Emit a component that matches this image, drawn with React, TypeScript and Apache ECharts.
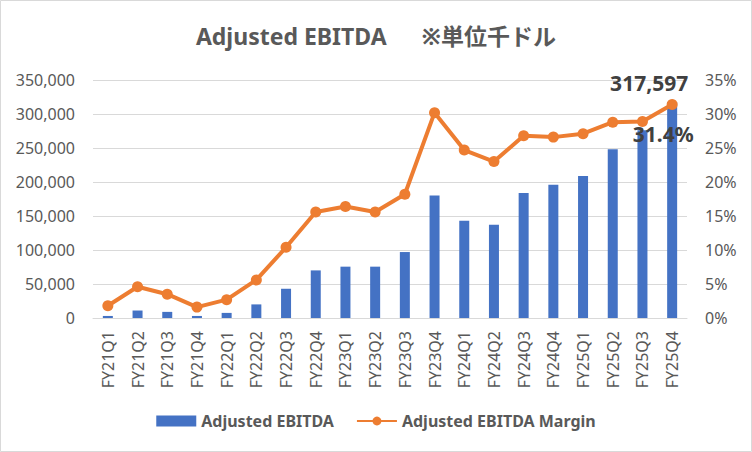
import React, { useEffect, useRef } from "react";
import * as echarts from "echarts";

const categories = [
  "FY21Q1", "FY21Q2", "FY21Q3", "FY21Q4",
  "FY22Q1", "FY22Q2", "FY22Q3", "FY22Q4",
  "FY23Q1", "FY23Q2", "FY23Q3", "FY23Q4",
  "FY24Q1", "FY24Q2", "FY24Q3", "FY24Q4",
  "FY25Q1", "FY25Q2", "FY25Q3", "FY25Q4",
];

const ebitda = [
  3000, 11000, 9000, 3000,
  7500, 20000, 43000, 70000,
  75500, 75500, 97000, 180000,
  143000, 137000, 184000, 196000,
  209000, 248000, 276000, 317597,
];

const margin = [
  1.8, 4.6, 3.5, 1.6,
  2.7, 5.6, 10.4, 15.6,
  16.4, 15.6, 18.2, 30.2,
  24.7, 23.0, 26.8, 26.6,
  27.1, 28.8, 28.9, 31.4,
];

const FONT = "'Noto Sans', 'Noto Sans CJK JP', sans-serif";
const GREY = "#595959";

export default function App() {
  const ref = useRef<HTMLDivElement>(null);
  useEffect(() => {
    document.body.style.margin = "0";
    const chart = echarts.init(ref.current!, null, { renderer: "svg" });
    const last = categories.length - 1;
    chart.setOption({
      animation: false,
      backgroundColor: "#ffffff",
      textStyle: { fontFamily: FONT },
      title: {
        text: "Adjusted EBITDA 　 ※単位千ドル",
        left: "center",
        top: 19,
        textStyle: { fontFamily: FONT, fontSize: 23, fontWeight: "bold", color: GREY },
      },
      legend: {
        bottom: 18,
        left: "center",
        itemGap: 22,
        itemWidth: 40,
        itemHeight: 11,
        textStyle: { fontFamily: FONT, fontSize: 16, fontWeight: "bold", color: GREY },
        data: [
          { name: "Adjusted EBITDA", icon: "rect" },
          { name: "Adjusted EBITDA Margin" },
        ],
      },
      grid: { left: 93, right: 65, top: 80, bottom: 134 },
      xAxis: {
        type: "category",
        data: categories,
        axisLine: { lineStyle: { color: "#d9d9d9", width: 1 } },
        axisTick: { show: false },
        axisLabel: { rotate: 90, fontSize: 16, color: GREY, fontFamily: FONT, margin: 13 },
      },
      yAxis: [
        {
          type: "value",
          min: 0,
          max: 350000,
          interval: 50000,
          axisLine: { show: false },
          axisTick: { show: false },
          splitLine: { lineStyle: { color: "#d9d9d9", width: 1 } },
          axisLabel: {
            fontSize: 16,
            color: GREY,
            fontFamily: FONT,
            margin: 18,
            formatter: (v: number) => v.toLocaleString("en-US"),
          },
        },
        {
          type: "value",
          min: 0,
          max: 35,
          interval: 5,
          axisLine: { show: false },
          axisTick: { show: false },
          splitLine: { show: false },
          axisLabel: {
            fontSize: 16,
            color: GREY,
            fontFamily: FONT,
            margin: 18,
            formatter: (v: number) => `${v}%`,
          },
        },
      ],
      series: [
        {
          name: "Adjusted EBITDA",
          type: "bar",
          yAxisIndex: 0,
          barWidth: 10,
          itemStyle: { color: "#4472C4" },
          data: ebitda.map((v, i) =>
            i === last
              ? {
                  value: v,
                  label: {
                    show: true,
                    position: "top",
                    offset: [-23, -4],
                    fontSize: 21,
                    fontWeight: "bold",
                    color: "#404040",
                    fontFamily: FONT,
                    formatter: (p: any) => Number(p.value).toLocaleString("en-US"),
                  },
                }
              : v
          ),
          z: 1,
        },
        {
          name: "Adjusted EBITDA Margin",
          type: "line",
          yAxisIndex: 1,
          symbol: "circle",
          symbolSize: 11,
          lineStyle: { color: "#ED7D31", width: 4 },
          itemStyle: { color: "#ED7D31" },
          data: margin.map((v, i) =>
            i === last
              ? {
                  value: v,
                  label: {
                    show: true,
                    position: "bottom",
                    offset: [-9, 9],
                    fontSize: 21,
                    fontWeight: "bold",
                    color: "#404040",
                    fontFamily: FONT,
                    formatter: (p: any) => `${Number(p.value).toFixed(1)}%`,
                  },
                }
              : v
          ),
          z: 3,
        },
      ],
      graphic: [
        {
          type: "rect",
          shape: { x: 0.5, y: 0.5, width: 751, height: 451 },
          style: { fill: "none", stroke: "#d9d9d9", lineWidth: 1 },
          silent: true,
        },
      ],
    });
    return () => chart.dispose();
  }, []);
  return <div ref={ref} style={{ width: 752, height: 452 }} />;
}
